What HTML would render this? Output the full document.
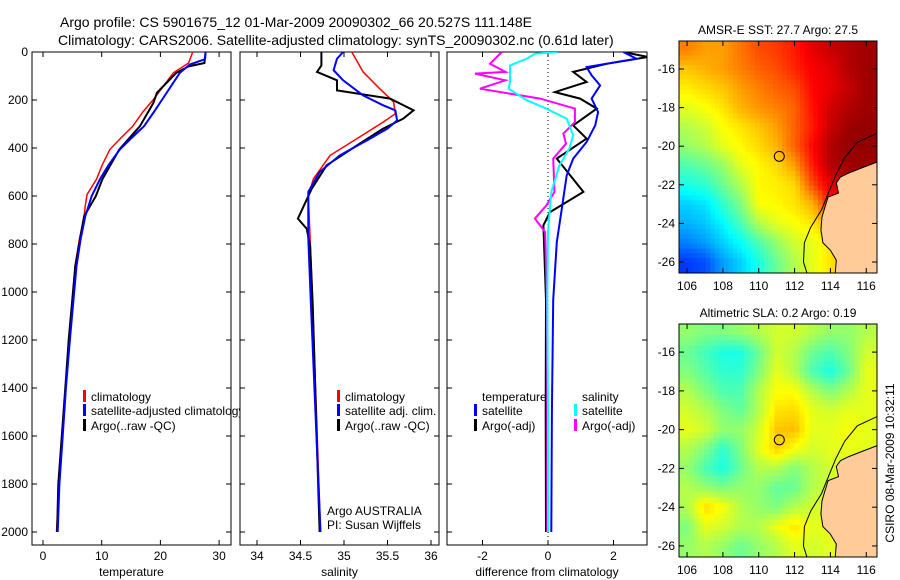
<!DOCTYPE html>
<html><head><meta charset="utf-8"><style>
body{margin:0;background:#fff;}
svg{display:block;font-family:"Liberation Sans",sans-serif;}
</style></head><body>
<svg id="fig" width="900" height="580" viewBox="0 0 900 580">
<text x="60" y="27" font-size="14">Argo profile: CS 5901675_12 01-Mar-2009 20090302_66 20.527S 111.148E</text>
<text x="58" y="45" font-size="14">Climatology: CARS2006. Satellite-adjusted climatology: synTS_20090302.nc (0.61d later)</text>
</svg>
<script>
// ---- temperature profiles (depth m, value degC)
const tClimDepth=[0,46,87,198,250,309,360,406,470,531,594,640,684,780,892,1200,1400,1600,1800,2000];
const tClim=[25.5,24.8,22.2,18.8,17.0,15.3,13.2,11.4,10.1,9.1,7.5,7.2,7.0,6.2,5.45,4.5,3.9,3.3,2.8,2.3];
const tSatDepth=[0,30,52,87,198,250,309,360,406,470,531,600,684,780,892,1194,1400,1600,1800,2000];
const tSat=[27.7,27.6,25.0,23.3,20.3,18.9,17.2,15.0,13.1,11.2,9.7,8.3,7.2,6.4,5.7,4.6,3.9,3.35,2.8,2.5];
const tArgoDepth=[0,46,60,87,170,212,309,406,531,601,684,892,1194,1400,1600,1800,2000];
const tArgo=[27.7,27.5,24.8,22.7,19.4,18.8,16.5,13.0,10.1,9.0,7.0,5.5,4.4,3.8,3.2,2.6,2.4];
// ---- salinity profiles
const sClimDepth=[0,83,153,208,257,292,361,431,528,597,778,1050,2000];
const sClim=[35.09,35.22,35.41,35.57,35.59,35.45,35.15,34.84,34.65,34.59,34.61,34.64,34.73];
const sSatDepth=[0,28,76,118,181,222,243,285,319,361,431,500,583,778,1050,2000];
const sSat=[34.99,34.92,34.88,34.99,35.22,35.45,35.59,35.61,35.5,35.3,34.95,34.72,34.59,34.59,34.62,34.73];
const sArgoDepth=[0,56,83,118,160,194,243,278,319,389,472,569,694,736,806,1050,2000];
const sArgo=[34.74,34.74,34.69,34.92,34.92,35.53,35.8,35.68,35.45,35.15,34.8,34.63,34.47,34.57,34.61,34.64,34.72];
// ---- differences from climatology
const dTSatDepth=[0,28,63,97,139,194,250,306,375,444,514,653,792,1033,1500,2000];
const dTSat=[2.3,2.7,1.18,1.33,1.59,1.33,1.53,1.44,1.18,0.77,0.57,0.42,0.27,0.16,0.12,0.1];
const dTArgoDepth=[0,21,49,83,125,167,194,236,306,361,444,583,667,722,1033,1500,2000];
const dTArgo=[2.3,3.05,1.79,0.77,1.18,0.21,0.98,1.49,0.77,1.18,0.27,1.08,0.06,-0.14,-0.06,-0.07,-0.06];
const dSArgoDepth=[0,49,83,90,118,153,194,236,292,340,382,444,583,639,694,750,1033,1500,2000];
const dSArgo=[-1.41,-1.77,-1.3,-2.23,-1.3,-2.08,-0.24,0.82,0.82,0.47,0.55,0.16,0.2,-0.05,-0.4,-0.09,-0.03,-0.02,-0.02];
const dSSatDepth=[0,7,28,56,125,153,201,236,278,347,403,472,583,750,1033,1500,2000];
const dSSat=[0.3,-0.4,-0.65,-1.16,-1.16,-1.2,-0.65,-0.05,0.57,0.77,0.65,0.35,0.1,0.0,-0.02,0.0,0.0];
// ---- ticks
const depthTicks=[0,200,400,600,800,1000,1200,1400,1600,1800,2000];
const tempTicks=[0,10,20,30];
const salTicks=[34,34.5,35,35.5,36];
const salTickLabels=["34","34.5","35","35.5","36"];
const diffTicks=[-2,0,2];
const lonTicks=[106,108,110,112,114,116];
const latTicks=[-16,-18,-20,-22,-24,-26];
// ---- map fields (jet index 0..1), rows lat -15..-26, cols lon 106..116
const sstGrid=[
[.75,.72,.72,.76,.80,.82,.85,.90,.93,.95,.97],
[.68,.70,.72,.75,.78,.80,.84,.88,.90,.95,.97],
[.64,.66,.68,.72,.75,.78,.80,.87,.90,.93,.97],
[.60,.62,.65,.70,.73,.75,.78,.86,.92,.95,.97],
[.55,.58,.62,.65,.68,.72,.78,.85,.93,.97,.98],
[.52,.55,.60,.63,.66,.70,.78,.87,.95,.98,.98],
[.45,.48,.52,.60,.63,.66,.72,.85,.95,.97,.97],
[.40,.42,.48,.55,.63,.64,.66,.80,.90,.95,.95],
[.33,.35,.42,.50,.62,.63,.65,.70,.85,.90,.90],
[.30,.32,.37,.45,.55,.60,.62,.65,.70,.80,.80],
[.25,.28,.33,.38,.45,.52,.58,.60,.65,.70,.70],
[.18,.20,.28,.33,.40,.48,.55,.60,.65,.70,.70]];
const slaGrid=[
[.52,.50,.50,.52,.55,.58,.58,.55,.52,.52,.55],
[.48,.44,.40,.40,.48,.58,.55,.48,.45,.50,.58],
[.50,.46,.42,.42,.50,.60,.55,.45,.40,.48,.60],
[.55,.50,.45,.45,.55,.62,.62,.55,.50,.55,.60],
[.58,.55,.50,.47,.55,.65,.66,.60,.58,.60,.60],
[.60,.58,.52,.52,.58,.68,.69,.60,.60,.62,.60],
[.55,.50,.42,.50,.60,.67,.62,.58,.60,.60,.60],
[.52,.45,.40,.48,.55,.55,.50,.55,.58,.60,.60],
[.55,.52,.50,.52,.52,.47,.48,.55,.58,.60,.60],
[.55,.66,.62,.55,.52,.50,.55,.58,.60,.60,.60],
[.50,.60,.58,.55,.55,.61,.65,.60,.60,.60,.60],
[.52,.55,.52,.48,.52,.55,.60,.58,.60,.60,.60]];
const landLon=[116.9,115.88,115.02,114.56,114.33,114.45,113.87,113.7,113.53,113.47,113.58,113.99,114.33,114.27,116.9];
const landLat=[-20.72,-21.08,-21.39,-21.6,-21.9,-22.43,-22.63,-23.15,-23.67,-24.34,-25.0,-25.38,-25.9,-26.6,-26.6];
const shelfLon=[116.9,115.5,114.8,114.3,113.9,113.5,112.9,112.55,112.5,112.7];
const shelfLat=[-19.2,-19.8,-20.6,-21.5,-22.4,-23.3,-24.2,-25.0,-26.0,-26.6];
const floatLon=111.148, floatLat=-20.527;

const NS="http://www.w3.org/2000/svg";
const svg=document.getElementById('fig');
function mk(tag,attrs,parent){const e=document.createElementNS(NS,tag);for(const k in attrs)e.setAttribute(k,attrs[k]);(parent||svg).appendChild(e);return e;}
function txt(x,y,s,size,anchor,parent){const t=mk('text',{x:x,y:y,'font-size':size||12,'text-anchor':anchor||'start'},parent);t.textContent=s;return t;}

const TOP=52,BOT=545;
const yD=d=>TOP+d*0.24;
function panel(name,x0,x1,xs,ticks,labels,xlabel,showY){
  const g=mk('g',{});
  
  
  const r=mk('rect',{x:x0,y:TOP,width:x1-x0,height:BOT-TOP,fill:'#fff',stroke:'#000','stroke-width':1},g);
  
  
  ticks.forEach((v,i)=>{const x=xs(v);
    mk('line',{x1:x,y1:BOT,x2:x,y2:BOT-5,stroke:'#000'},g);
    mk('line',{x1:x,y1:TOP,x2:x,y2:TOP+5,stroke:'#000'},g);
    const t=txt(x,BOT+15,labels[i],12,'middle',g);
    
    
  });
  depthTicks.forEach(d=>{const y=yD(d);
    mk('line',{x1:x0,y1:y,x2:x0+5,y2:y,stroke:'#000'},g);
    mk('line',{x1:x1,y1:y,x2:x1-5,y2:y,stroke:'#000'},g);
    if(showY){const t=txt(x0-4,y+4,String(d),12,'end',g);
      
      }
  });
  const xl=txt((x0+x1)/2,BOT+31,xlabel,12,'middle',g);
  
  
  return g;
}
function line(g,name,depths,vals,xs,color,w){
  const pts=depths.map((d,i)=>xs(vals[i]).toFixed(1)+','+yD(d).toFixed(1)).join(' ');
  const p=mk('polyline',{points:pts,fill:'none',stroke:color,'stroke-width':w,'stroke-linejoin':'miter'},g);
  
  
}
function legend(g,x,y,color,label,name){
  if(color){const m=mk('rect',{x:x-8,y:y-7,width:3,height:12,fill:color},g);
    
    }
  const t=txt(x,y+4,label,12,'start',g);
  
  
}
// panel 1
const xT=v=>43+v*5.87;
const g1=panel('temperature-panel',32,231,xT,tempTicks,tempTicks.map(String),'temperature',true);
line(g1,'temp-climatology-line',tClimDepth,tClim,xT,'#f00',1.5);
line(g1,'temp-argo-line',tArgoDepth,tArgo,xT,'#000',2);
line(g1,'temp-satellite-line',tSatDepth,tSat,xT,'#00f',2);
legend(g1,91,397,'#f00','climatology','legend-climatology');
legend(g1,91,411,'#00f','satellite-adjusted climatology','legend-satellite');
legend(g1,91,426,'#000','Argo(..raw -QC)','legend-argo');
// panel 2
const xS=v=>257+(v-34)*87;
const g2=panel('salinity-panel',240,439,xS,salTicks,salTickLabels,'salinity',false);
line(g2,'sal-climatology-line',sClimDepth,sClim,xS,'#f00',1.5);
line(g2,'sal-argo-line',sArgoDepth,sArgo,xS,'#000',2);
line(g2,'sal-satellite-line',sSatDepth,sSat,xS,'#00f',2);
legend(g2,345,397,'#f00','climatology','legend-climatology');
legend(g2,345,411,'#00f','satellite adj. clim.','legend-satellite');
legend(g2,345,426,'#000','Argo(..raw -QC)','legend-argo');
const a1=txt(327,515,'Argo AUSTRALIA',12,'start',g2);


const a2=txt(327,529,'PI: Susan Wijffels',12,'start',g2);


// panel 3
const xDf=v=>548+v*32.75;
const g3=panel('difference-panel',447,647,xDf,diffTicks,diffTicks.map(String),'difference from climatology',false);
const zl=mk('line',{x1:xDf(0),y1:TOP,x2:xDf(0),y2:BOT,stroke:'#000','stroke-width':1,'stroke-dasharray':'1,3'},g3);


const clip=mk('clipPath',{id:'c3'});mk('rect',{x:447,y:TOP,width:200,height:BOT-TOP},clip);
const g3l=mk('g',{'clip-path':'url(#c3)'},g3);
line(g3l,'diff-temp-argo-line',dTArgoDepth,dTArgo,xDf,'#000',2);
line(g3l,'diff-temp-satellite-line',dTSatDepth,dTSat,xDf,'#00f',2);
line(g3l,'diff-sal-argo-line',dSArgoDepth,dSArgo,xDf,'#f0f',2);
line(g3l,'diff-sal-satellite-line',dSSatDepth,dSSat,xDf,'#0ff',2);
legend(g3,482,397,null,'temperature','legend-temperature-header');
legend(g3,482,411,'#00f','satellite','legend-temp-satellite');
legend(g3,482,426,'#000','Argo(-adj)','legend-temp-argo');
legend(g3,582,397,null,'salinity','legend-salinity-header');
legend(g3,582,411,'#0ff','satellite','legend-sal-satellite');
legend(g3,582,426,'#f0f','Argo(-adj)','legend-sal-argo');

// maps
function jet(v){const c=x=>Math.round(255*Math.max(0,Math.min(1,x)));
  return 'rgb('+c(1.5-Math.abs(4*v-3))+','+c(1.5-Math.abs(4*v-2))+','+c(1.5-Math.abs(4*v-1))+')';}
function sample(grid,lon,lat){
  let cx=Math.max(0,Math.min(10,lon-106)),cy=Math.max(0,Math.min(11,-15-lat));
  const i=Math.min(9,Math.floor(cx)),j=Math.min(10,Math.floor(cy));const fx=cx-i,fy=cy-j;
  return grid[j][i]*(1-fx)*(1-fy)+grid[j][i+1]*fx*(1-fy)+grid[j+1][i]*(1-fx)*fy+grid[j+1][i+1]*fx*fy;}
function map(name,top,bot,grid,step,title){
  const X0=679,X1=877;
  const lonL=105.55,lonR=116.6,latT=-14.55,latB=-26.57;
  const xs=l=>X0+(l-lonL)/(lonR-lonL)*(X1-X0);
  const ys=l=>top+(latT-l)/(latT-latB)*(bot-top);
  const g=mk('g',{});
  
  
  const cid=name+'-clip';const cp=mk('clipPath',{id:cid});mk('rect',{x:X0,y:top,width:X1-X0,height:bot-top},cp);
  const gc=mk('g',{'clip-path':'url(#'+cid+')'},g);
  for(let lat=latT;lat>latB-step;lat-=step){
    for(let lon=lonL;lon<lonR+step;lon+=step){
      const v=sample(grid,lon+step/2,lat-step/2);
      const x=xs(lon),y=ys(lat);
      mk('rect',{x:x.toFixed(1),y:y.toFixed(1),width:(xs(lon+step)-x+0.6).toFixed(1),height:(ys(lat-step)-y+0.6).toFixed(1),fill:jet(v)},gc);
    }}
  const land=mk('polygon',{points:landLon.map((l,i)=>xs(l).toFixed(1)+','+ys(landLat[i]).toFixed(1)).join(' '),fill:'#ffcc99',stroke:'#000','stroke-width':1},gc);
  
  
  const sh=mk('polyline',{points:shelfLon.map((l,i)=>xs(l).toFixed(1)+','+ys(shelfLat[i]).toFixed(1)).join(' '),fill:'none',stroke:'#000','stroke-width':1},gc);
  
  
  const c=mk('circle',{cx:xs(floatLon),cy:ys(floatLat),r:5,fill:'none',stroke:'#000','stroke-width':1},g);
  
  
  mk('rect',{x:X0,y:top,width:X1-X0,height:bot-top,fill:'none',stroke:'#000'},g);
  lonTicks.forEach(l=>{const x=xs(l);
    mk('line',{x1:x,y1:bot,x2:x,y2:bot-5,stroke:'#000'},g);mk('line',{x1:x,y1:top,x2:x,y2:top+5,stroke:'#000'},g);
    const t=txt(x,bot+17,String(l),12,'middle',g);
    
    });
  latTicks.forEach(l=>{const y=ys(l);
    mk('line',{x1:X0,y1:y,x2:X0+5,y2:y,stroke:'#000'},g);mk('line',{x1:X1,y1:y,x2:X1-5,y2:y,stroke:'#000'},g);
    const t=txt(X0-4,y+4,String(l),12,'end',g);
    
    });
  const tt=txt((X0+X1)/2,top-7,title,12,'middle',g);
  
  
}
map('sst-map',41,273,sstGrid,0.25,'AMSR-E SST: 27.7 Argo: 27.5');
map('sla-map',324,557,slaGrid,0.28,'Altimetric SLA: 0.2 Argo: 0.19');
const cs=txt(0,0,'CSIRO 08-Mar-2009 10:32:11',12,'middle');
cs.setAttribute('transform','translate(894,463) rotate(-90)');


</script>
</body></html>
